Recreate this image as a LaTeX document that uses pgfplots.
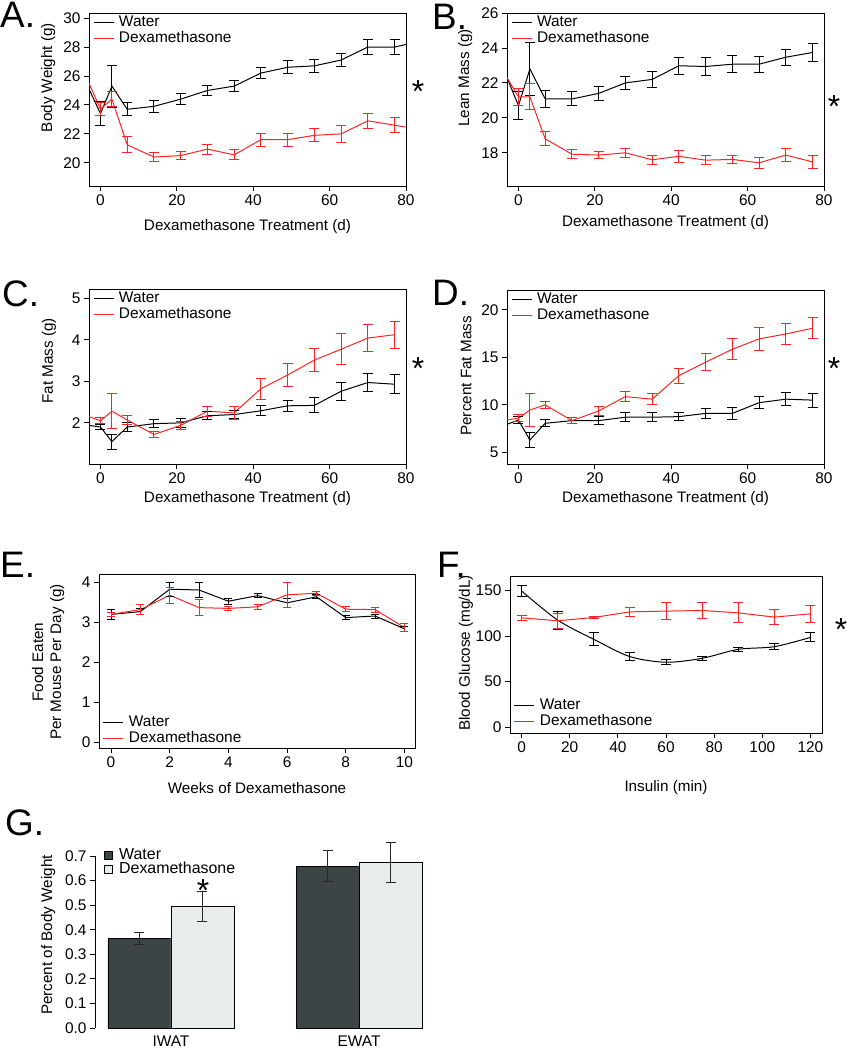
\documentclass[border=0pt]{standalone}
\usepackage{fontspec}
\setmainfont{Liberation Sans}
\usepackage{pgfplots}
\usepackage{pgfplotstable}
\pgfplotsset{compat=1.18}
\definecolor{dexred}{RGB}{255,35,35}
\definecolor{wbar}{RGB}{60,68,69}
\definecolor{dbar}{RGB}{232,236,234}
% ---- data (x = day, y = mean, e = error)
\pgfplotstableread{
x y e
-3 25.1 0.5
0 23.4 0.85
3 25.3 1.45
7 23.7 0.45
14 23.9 0.4
21 24.4 0.4
28 25.0 0.35
35 25.3 0.4
42 26.2 0.4
49 26.6 0.45
56 26.7 0.45
63 27.1 0.45
70 28.0 0.5
77 28.0 0.5
80.5 28.2 0.45
}\Aw
\pgfplotstableread{
x y e
-3 25.5 0.8
0 23.7 0.45
3 24.4 0.5
7 21.25 0.55
14 20.4 0.3
21 20.5 0.3
28 20.95 0.35
35 20.55 0.35
42 21.6 0.45
49 21.6 0.45
56 21.9 0.45
63 22.0 0.6
70 22.9 0.5
77 22.6 0.5
80.5 22.45 0.45
}\Ar
\pgfplotstableread{
x y e
-3 22.3 1.2
0 20.7 0.8
3 22.8 1.5
7 21.08 0.5
14 21.08 0.4
21 21.4 0.4
28 22.0 0.35
35 22.2 0.45
42 22.98 0.5
49 22.94 0.5
56 23.07 0.5
63 23.07 0.45
70 23.47 0.45
77 23.74 0.5
}\Bw
\pgfplotstableread{
x y e
-3 22.3 1.0
0 21.2 0.5
3 21.2 0.75
7 18.8 0.4
14 17.92 0.25
21 17.87 0.2
28 18.0 0.25
35 17.6 0.25
42 17.8 0.35
49 17.58 0.25
56 17.62 0.25
63 17.43 0.3
70 17.87 0.35
77 17.48 0.35
}\Br
\pgfplotstableread{
x y e
-3 1.94 0.2
0 1.9 0.07
3 1.55 0.18
7 1.9 0.1
14 1.98 0.1
21 2.0 0.1
28 2.17 0.1
35 2.2 0.1
42 2.29 0.12
49 2.41 0.13
56 2.42 0.18
63 2.76 0.22
70 2.97 0.22
77 2.93 0.23
}\Cw
\pgfplotstableread{
x y e
-3 2.15 0.32
0 2.05 0.07
3 2.28 0.42
7 2.07 0.1
14 1.72 0.07
21 1.94 0.1
28 2.28 0.12
35 2.24 0.15
42 2.82 0.25
49 3.15 0.27
56 3.51 0.28
63 3.77 0.37
70 4.04 0.32
77 4.12 0.32
}\Cr
\pgfplotstableread{
x y e
-3 7.95 1.2
0 8.4 0.35
3 6.3 0.8
7 8.06 0.35
14 8.34 0.3
21 8.34 0.45
28 8.7 0.45
35 8.7 0.45
42 8.76 0.4
49 9.1 0.5
56 9.1 0.6
63 10.23 0.6
70 10.6 0.7
77 10.5 0.75
}\Dw
\pgfplotstableread{
x y e
-3 8.4 1.55
0 8.6 0.4
3 9.46 1.7
7 10.0 0.4
14 8.34 0.3
21 9.36 0.5
28 10.87 0.5
35 10.6 0.6
42 13.08 0.8
49 14.5 0.9
56 15.86 1.1
63 16.95 1.25
70 17.47 1.1
77 18.07 1.1
}\Dr
\pgfplotstableread{
x y e
0 3.19 0.13
1 3.26 0.08
2 3.82 0.18
3 3.8 0.18
4 3.52 0.08
5 3.66 0.05
6 3.48 0.12
7 3.63 0.05
8 3.11 0.05
9 3.15 0.05
10 2.83 0.07
}\Ew
\pgfplotstableread{
x y e
0 3.19 0.05
1 3.31 0.12
2 3.67 0.2
3 3.36 0.2
4 3.34 0.05
5 3.38 0.07
6 3.68 0.32
7 3.72 0.05
8 3.32 0.06
9 3.31 0.06
10 2.86 0.1
}\Er
\pgfplotstableread{
x y e
0 149.6 6
15 117.5 10
30 96.4 7
45 77.4 4
60 71.2 3
75 75.5 2.5
90 85.4 2
105 88.3 3
120 98.5 5
}\Fw
\pgfplotstableread{
x y e
0 120 3
15 116.8 8
30 120.4 1.5
45 126.6 5
60 127.4 9
75 128.1 9
90 125.5 11
105 120.8 8
120 124.4 9
}\Fr
\pgfplotsset{
  panel/.style={
    scale only axis, width=317bp, height=173bp, anchor=south west,
    axis line style={line width=0.9pt},
    tick align=outside, xtick pos=left, ytick pos=left,
    major tick length=5bp, tick style={line width=0.9pt, black},
    /pgf/number format/assume math mode=true,
    tick label style={font=\fontsize{15.5}{17}\selectfont},
    every axis y label/.style={rotate=90, anchor=center, font=\fontsize{15.3}{18}\selectfont},
    every axis x label/.style={anchor=center, font=\fontsize{15.3}{18}\selectfont},
    legend style={draw=none, fill=none, font=\fontsize{15.5}{17}\selectfont,
      legend cell align=left, inner sep=0pt, row sep=0pt, column sep=4bp,
      nodes={text height=11bp, text depth=3bp, inner sep=1bp},
      anchor=north west},
    legend image code/.code={\draw[##1, line width=1pt] (0bp,0bp) -- (20bp,0bp);},
  },
  wl/.style={black, line width=1pt, mark=none},
  rl/.style={dexred, line width=1pt, mark=none},
  we/.style={forget plot, draw=none, mark=none,
    error bars/.cd, y dir=both, y explicit,
    error bar style={draw=black, line width=1pt},
    error mark options={rotate=90, mark size=#1, line width=1pt, draw=black}},
  we/.default=5bp,
  re/.style={forget plot, draw=none, mark=none,
    error bars/.cd, y dir=both, y explicit,
    error bar style={draw=dexred, line width=1pt},
    error mark options={rotate=90, mark size=#1, line width=1pt, draw=dexred}},
  re/.default=5bp,
}
\begin{document}
\begin{tikzpicture}
\useasboundingbox (0,0) rectangle (847bp,-1050bp);
% ---------------- A
\begin{axis}[panel, at={(89bp,-186bp)}, xmin=-3, xmax=80, ymin=18.4, ymax=30.35,
  xtick={0,20,...,80}, ytick={20,22,...,30},
  ylabel={Body Weight (g)}, xlabel={Dexamethasone Treatment (d)},
  ylabel style={at={(axis description cs:-0.129,0.627)}},
  xlabel style={at={(axis description cs:0.5,-0.235)}},
  legend style={at={(axis description cs:0.012,0.99)}}]
\addplot[wl] table[x=x,y=y]{\Aw};
\addlegendentry{Water}
\addplot[rl] table[x=x,y=y]{\Ar};
\addlegendentry{Dexamethasone}
\addplot[restrict x to domain=-1:79, we] table[x=x,y=y,y error=e]{\Aw};
\addplot[restrict x to domain=-1:79, re] table[x=x,y=y,y error=e]{\Ar};
\end{axis}
% ---------------- B
\begin{axis}[panel, at={(507bp,-186bp)}, xmin=-3, xmax=80, ymin=16.1, ymax=26,
  xtick={0,20,...,80}, ytick={18,20,...,26},
  ylabel={Lean Mass (g)}, xlabel={Dexamethasone Treatment (d)},
  ylabel style={at={(axis description cs:-0.132,0.624)}},
  xlabel style={at={(axis description cs:0.5,-0.212)}},
  legend style={at={(axis description cs:0.012,0.99)}}]
\addplot[wl] table[x=x,y=y]{\Bw};
\addlegendentry{Water}
\addplot[rl] table[x=x,y=y]{\Br};
\addlegendentry{Dexamethasone}
\addplot[restrict x to domain=-1:79, we] table[x=x,y=y,y error=e]{\Bw};
\addplot[restrict x to domain=-1:79, re] table[x=x,y=y,y error=e]{\Br};
\end{axis}
% ---------------- C
\begin{axis}[panel, at={(89bp,-464bp)}, height=175bp, xmin=-3, xmax=80, ymin=1.01, ymax=5.22,
  xtick={0,20,...,80}, ytick={2,3,4,5},
  ylabel={Fat Mass (g)}, xlabel={Dexamethasone Treatment (d)},
  ylabel style={at={(axis description cs:-0.126,0.589)}},
  xlabel style={at={(axis description cs:0.5,-0.2)}},
  legend style={at={(axis description cs:0.012,0.99)}}]
\addplot[wl] table[x=x,y=y]{\Cw};
\addlegendentry{Water}
\addplot[rl] table[x=x,y=y]{\Cr};
\addlegendentry{Dexamethasone}
\addplot[restrict x to domain=-1:79, we] table[x=x,y=y,y error=e]{\Cw};
\addplot[restrict x to domain=-1:79, re] table[x=x,y=y,y error=e]{\Cr};
\end{axis}
% ---------------- D
\begin{axis}[panel, at={(507bp,-464bp)}, height=174bp, xmin=-3, xmax=80, ymin=3.77, ymax=22.1,
  xtick={0,20,...,80}, ytick={5,10,15,20},
  ylabel={Percent Fat Mass}, xlabel={Dexamethasone Treatment (d)},
  ylabel style={at={(axis description cs:-0.129,0.506)}},
  xlabel style={at={(axis description cs:0.5,-0.2)}},
  legend style={at={(axis description cs:0.012,0.99)}}]
\addplot[wl] table[x=x,y=y]{\Dw};
\addlegendentry{Water}
\addplot[rl] table[x=x,y=y]{\Dr};
\addlegendentry{Dexamethasone}
\addplot[restrict x to domain=-1:79, we] table[x=x,y=y,y error=e]{\Dw};
\addplot[restrict x to domain=-1:79, re] table[x=x,y=y,y error=e]{\Dr};
\end{axis}
% ---------------- E
\begin{axis}[panel, at={(99bp,-748bp)}, width=316bp, height=174bp,
  xmin=-0.41, xmax=10.36, ymin=-0.15, ymax=4.2,
  xtick={0,2,...,10}, ytick={0,1,2,3,4},
  ylabel={Food Eaten\\Per Mouse Per Day (g)}, xlabel={Weeks of Dexamethasone},
  ylabel style={align=center, at={(axis description cs:-0.161,0.494)}},
  xlabel style={at={(axis description cs:0.5,-0.23)}},
  legend style={at={(axis description cs:0.012,0.008)}, anchor=south west}]
\addplot[wl] table[x=x,y=y]{\Ew};
\addlegendentry{Water}
\addplot[rl] table[x=x,y=y]{\Er};
\addlegendentry{Dexamethasone}
\addplot[we=4bp] table[x=x,y=y,y error=e]{\Ew};
\addplot[re=4bp] table[x=x,y=y,y error=e]{\Er};
\end{axis}
% ---------------- F
\begin{axis}[panel, at={(510bp,-733bp)}, width=312bp, height=157bp,
  xmin=-4.8, xmax=124.8, ymin=-6.6, ymax=166,
  xtick={0,20,...,120}, ytick={0,50,100,150},
  ylabel={Blood Glucose (mg/dL)}, xlabel={Insulin (min)},
  ylabel style={at={(axis description cs:-0.141,0.51)}},
  xlabel style={at={(axis description cs:0.5,-0.35)}},
  legend style={at={(axis description cs:0.012,0.02)}, anchor=south west}]
\addplot[wl, smooth] table[x=x,y=y]{\Fw};
\addlegendentry{Water}
\addplot[rl] table[x=x,y=y]{\Fr};
\addlegendentry{Dexamethasone}
\addplot[we] table[x=x,y=y,y error=e]{\Fw};
\addplot[re] table[x=x,y=y,y error=e]{\Fr};
\end{axis}
% ---------------- G
\begin{axis}[scale only axis, at={(95bp,-1028bp)}, anchor=south west,
  width=328bp, height=186.7bp, xmin=-0.404, xmax=1.34, ymin=0, ymax=0.76,
  axis lines*=left, axis line style={draw=none},
  tick align=outside, major tick length=5bp,
  ytick={0,0.1,...,0.7}, ytick style={line width=0.9pt, black},
  xtick={0,1}, xticklabels={IWAT,EWAT}, xtick style={draw=none},
  /pgf/number format/assume math mode=true,
  yticklabel style={/pgf/number format/.cd, fixed, fixed zerofill, precision=1},
  tick label style={font=\fontsize{15.5}{17}\selectfont},
  xticklabel style={yshift=1bp},
  ylabel={Percent of Body Weight},
  every axis y label/.style={rotate=90, anchor=center, font=\fontsize{15.3}{18}\selectfont, at={(axis description cs:-0.143,0.498)}},
  clip=false,
  legend style={draw=none, fill=none, font=\fontsize{16}{16}\selectfont,
    legend cell align=left, inner sep=0pt, row sep=0pt, column sep=6bp,
    nodes={text height=10.5bp, text depth=2.5bp, inner sep=0.5bp},
    at={(axis description cs:0.027,0.965)}, anchor=north west}]
\draw[line width=0.9pt] (axis cs:-0.404,0) -- (axis cs:-0.404,0.7);
\addplot[ybar, bar width=0.335, bar shift=0, fill=wbar, draw=black, line width=0.7pt,
  legend image code/.code={\draw[fill=wbar, draw=black, line width=0.6pt] (0bp,-4bp) rectangle (8bp,4bp);},
  error bars/.cd, y dir=both, y explicit,
  error bar style={line width=1pt, black!85},
  error mark options={rotate=90, mark size=5bp, line width=1pt, black!85}]
  table[x=x,y=y,y error=e]{
x y e
-0.1675 0.364 0.025
0.8325 0.658 0.063
};
\addlegendentry{Water}
\addplot[ybar, bar width=0.335, bar shift=0, fill=dbar, draw=black, line width=0.7pt,
  legend image code/.code={\draw[fill=dbar, draw=black, line width=0.6pt] (0bp,-4bp) rectangle (8bp,4bp);},
  error bars/.cd, y dir=both, y explicit,
  error bar style={line width=1pt, black!85},
  error mark options={rotate=90, mark size=5bp, line width=1pt, black!85}]
  table[x=x,y=y,y error=e]{
x y e
0.1675 0.495 0.062
1.1675 0.674 0.082
};
\addlegendentry{Dexamethasone}
\end{axis}
% ---------------- annotations
\tikzset{plab/.style={anchor=north west, inner sep=0pt, font=\fontsize{37}{37}\selectfont},
  star/.style={anchor=north, inner sep=0pt, font=\fontsize{32}{32}\selectfont}}
\node[plab] at (0bp,-2bp) {A.};
\node[plab] at (432bp,-4bp) {B.};
\node[plab] at (2bp,-281bp) {C.};
\node[plab] at (432bp,-280bp) {D.};
\node[plab] at (0bp,-552bp) {E.};
\node[plab] at (437bp,-552bp) {F.};
\node[plab] at (5bp,-810bp) {G.};
\node[star] at (418bp,-80bp) {*};
\node[star] at (834bp,-95bp) {*};
\node[star] at (418bp,-357bp) {*};
\node[star] at (834bp,-357bp) {*};
\node[star] at (841bp,-618bp) {*};
\node[star] at (203bp,-879bp) {*};
\end{tikzpicture}
\end{document}
